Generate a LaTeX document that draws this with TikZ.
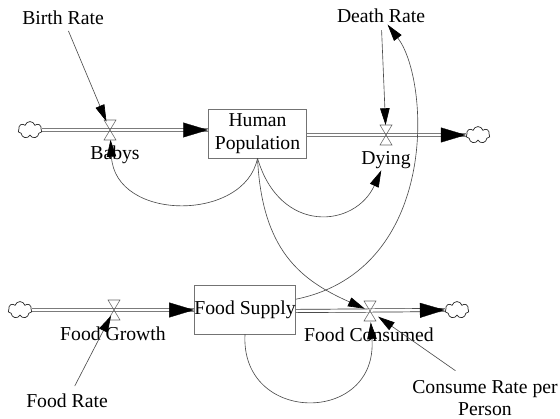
\documentclass[tikz,border=0pt]{standalone}
\usepackage{fontspec}
\setmainfont{Liberation Serif}
\usetikzlibrary{arrows.meta,shapes.symbols}

\begin{document}
\begin{tikzpicture}[x=0.025cm, y=-0.025cm,
  every node/.style={font=\fontsize{14}{16}\selectfont},
  stock/.style={draw=black!55, minimum width=70pt, minimum height=34.7pt, inner sep=0pt, align=center},
  sink/.style={cloud, cloud puffs=7, draw=black!85, line width=0.5pt, minimum width=17pt, minimum height=12pt, inner sep=0pt, aspect=1.4},
  pipe/.style={draw=black!80, double=white, double distance=1.8pt, line width=0.5pt},
  flowtip/.style={white, line width=0.2pt, -{Triangle[length=17.7pt, width=10.6pt, color=black]}},
  link/.style={black!70, line width=0.45pt, -{Triangle[length=12pt, width=6.7pt, color=black]}},
  valve/.style={draw=black!60, line width=0.4pt},
  lbl/.style={inner sep=1pt}]
\useasboundingbox (0,0) rectangle (560,419);
% stocks and clouds
\node[stock] (hp) at (257.5,133.5) {Human\\Population};
\node[stock] (fs) at (245,309.5) {Food Supply};
\node[sink] (cB) at (30,130) {};
\node[sink] (cD) at (478,135) {};
\node[sink] (cG) at (20,310) {};
\node[sink] (cC) at (457,310) {};
% valves
\coordinate (vB) at (110,130);
\coordinate (vD) at (386,135);
\coordinate (vG) at (114,310);
\coordinate (vC) at (370,311);
% labels
\node[lbl] (br) at (63,18) {Birth Rate};
\node[lbl] (dr) at (381,16) {Death Rate};
\node[lbl] (bb) at (115,155) {Babys};
\node[lbl] (dy) at (386,160) {Dying};
\node[lbl] (fg) at (113,334) {Food Growth};
\node[lbl] (fr) at (67,401) {Food Rate};
\node[lbl] (fc) at (369,335) {Food Consumed};
\node[lbl, align=center] (crp) at (485,398) {Consume Rate per\\Person};
% flows
\draw[pipe] (cB.east) -- (vB -| hp.west);
\draw[flowtip] (vB) -- (vB -| hp.west);
\draw[pipe] (vD -| hp.east) -- (cD.west);
\draw[flowtip] (vD) -- (cD.west);
\draw[pipe] (cG.east) -- (vG -| fs.west);
\draw[flowtip] (vG) -- (vG -| fs.west);
\draw[pipe] (vC -| fs.east) -- (cC.west);
\draw[flowtip] (vC) -- (cC.west);
\foreach \v in {vB,vD,vG,vC}
  \draw[valve, shift={(\v)}] (-6,-10) -- (6,-10) -- (0,0) -- cycle (-6,10) -- (6,10) -- (0,0) -- cycle;
% links
\draw[link, shorten <=10pt, shorten >=6.5pt] (br.center) -- (vB);
\draw[link, shorten <=10pt, shorten >=7pt] (dr.center) -- (vD);
\draw[link, shorten <=12pt, shorten >=4.5pt] (fr.center) -- (vG);
\draw[link, shorten >=7pt] ([xshift=-21pt,yshift=5.5pt]crp.north) -- (vC);
\draw[link, shorten >=7pt] (hp.south) .. controls (245,222) and (115,222) .. (vB);
\draw[link] (hp.south) .. controls (280,235) and (355,228) .. (dy);
\draw[link, shorten >=4pt] (hp.south) .. controls (262,250) and (300,280) .. (vC);
\draw[link] (fs) .. controls (440,270) and (430,80) .. (dr);
\draw[link, shorten >=8pt] (fs.south) .. controls (240,425) and (378,425) .. (vC);
\end{tikzpicture}
\end{document}
